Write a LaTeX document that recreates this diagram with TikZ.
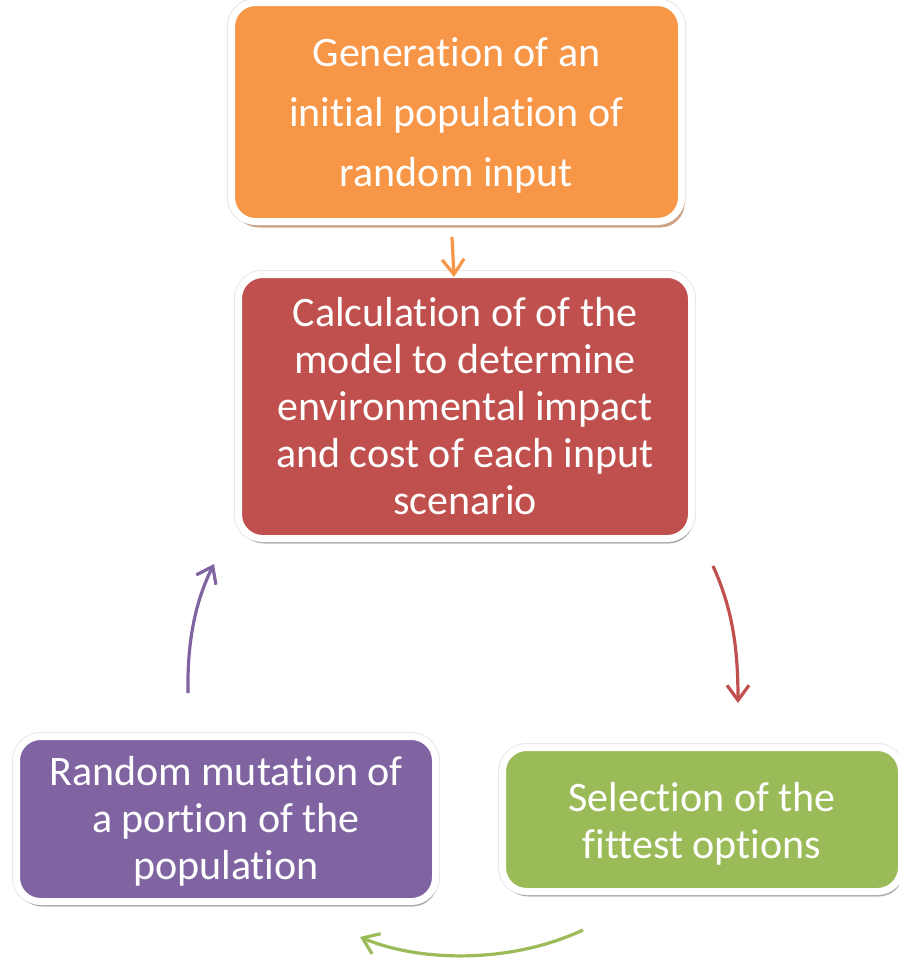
\documentclass[tikz,border=0pt]{standalone}
\usepackage{fontspec}
\setmainfont[RawFeature={-liga;-clig;-calt;-dlig}]{Carlito}
\usetikzlibrary{arrows.meta,shadows}
\newcommand\tI{t\kern0pt i}
\newcommand\fI{f\kern0pt i}
\definecolor{cOrange}{HTML}{F79646}
\definecolor{cRed}{HTML}{C0504D}
\definecolor{cGreen}{HTML}{9BBB59}
\definecolor{cPurple}{HTML}{8064A2}
\definecolor{cTan}{HTML}{CDA486}
\tikzset{
  stepbox/.style={rounded corners=24pt, draw=white, line width=7pt, align=center,
    text=white, inner sep=0pt,
    preaction={draw=black!9, line width=9pt},
    font=\fontsize{42}{47}\selectfont},
  gshadow/.style={drop shadow={opacity=.28, shadow xshift=1.5pt, shadow yshift=-5pt, fill=black}},
  flow/.style={line width=3.2pt, -{Straight Barb[length=15pt,width=22pt]}},
}
\begin{document}
\begin{tikzpicture}[x=1pt,y=-1pt]
\useasboundingbox (0,0) rectangle (899,959);
% boxes
\node[stepbox, fill=cOrange, minimum width=450pt, minimum height=219pt,
  drop shadow={opacity=1, shadow xshift=3pt, shadow yshift=-6pt, fill=cTan},
  font=\fontsize{42}{60}\selectfont]
  (gen) at (456.5,112) {\raisebox{-3pt}[\height][\depth]{\parbox{440pt}{\centering Genera\tI on of an\\ini\tI al popula\tI on of\\random input}}};
\node[stepbox, fill=cRed, gshadow, minimum width=453pt, minimum height=264pt]
  (calc) at (465,406.5) {Calcula\tI on of of the\\model to determine\\environmental impact\\and cost of each input\\scenario};
\node[stepbox, fill=cGreen, gshadow, minimum width=399pt, minimum height=144pt]
  (sel) at (702,819.5) {\raisebox{-4pt}[\height][\depth]{\parbox{390pt}{\centering Selec\tI on of the\\\fI ttest op\tI ons}}};
\node[stepbox, fill=cPurple, gshadow, minimum width=419pt, minimum height=165pt]
  (mut) at (226,819) {\raisebox{-2.5pt}[\height][\depth]{\parbox{410pt}{\centering Random muta\tI on of\\a por\tI on of the\\popula\tI on}}};
% connector end points
\coordinate (o1) at (452,237);
\coordinate (o2) at (454,277);
\coordinate (r1) at (713,566);
\coordinate (r2) at (738,703);
\coordinate (g1) at (583,930);
\coordinate (g2) at (360,937);
\coordinate (p1) at (188,693);
\coordinate (p2) at (214,564);
% connectors
\draw[flow, cOrange] (o1) -- (o2);
\draw[flow, cRed] (r1) .. controls (733,610) and (738,650) .. (r2);
\draw[flow, cGreen] (g1) .. controls (510,964) and (420,962) .. (g2);
\draw[flow, cPurple] (p1) .. controls (187,640) and (196,600) .. (p2);
\end{tikzpicture}
\end{document}
